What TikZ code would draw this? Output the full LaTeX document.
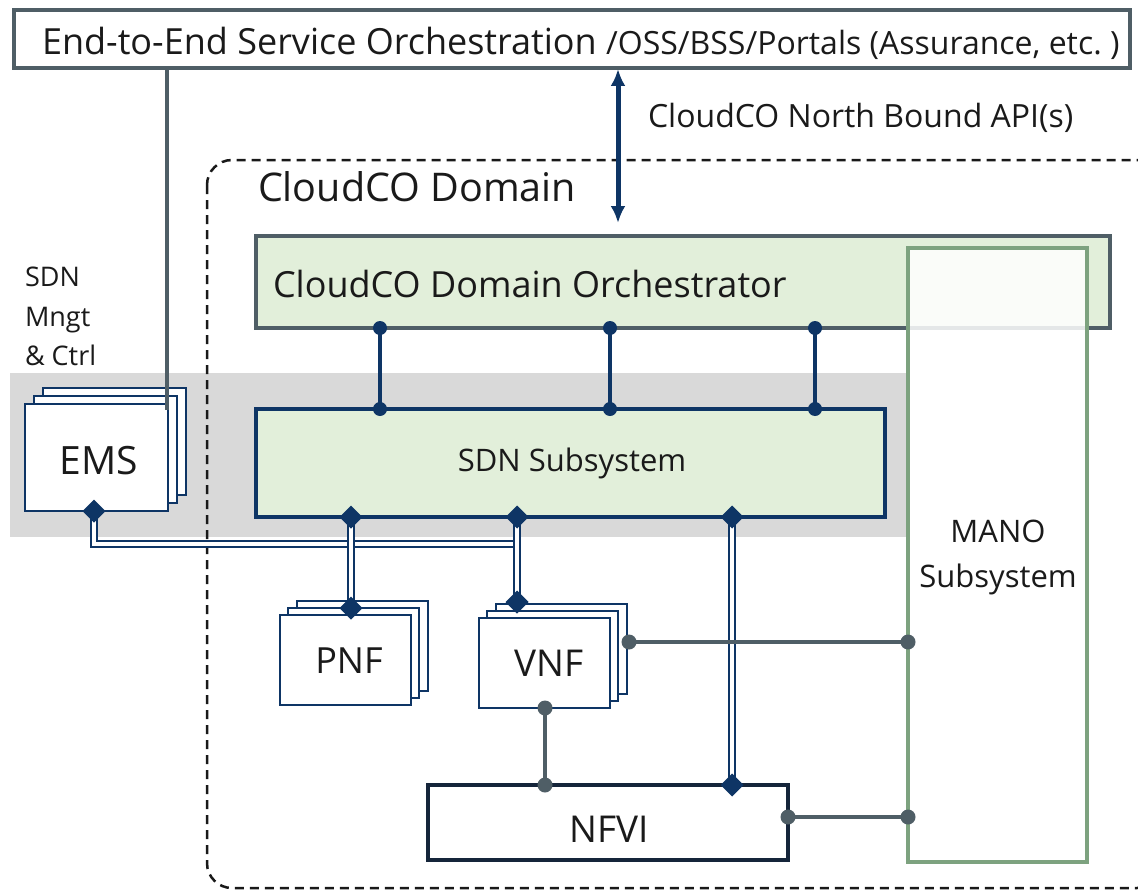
\documentclass[tikz,border=0pt]{standalone}
\usepackage{fontspec}
\setmainfont{Open Sans}
\usetikzlibrary{shapes.geometric,arrows.meta}
\definecolor{navy}{HTML}{0E3565}
\definecolor{cgray}{HTML}{4F5E66}
\definecolor{lgreen}{HTML}{E2EFDA}
\definecolor{mgreen}{HTML}{7DA27F}
\definecolor{bandgray}{HTML}{D9D9D9}
\definecolor{txt}{HTML}{1A1A1A}
\definecolor{nfvic}{HTML}{15253A}
\newcommand\fsz[1]{\fontsize{#1}{#1}\selectfont}
\tikzset{
  every node/.style={inner sep=0pt, outer sep=0pt, text=txt},
  nw/.style={rectangle, anchor=north west},
  topbox/.style={nw, draw=cgray, line width=3.2, fill=white},
  orchbox/.style={nw, draw=cgray, line width=3.2, fill=lgreen},
  manobox/.style={nw, draw=mgreen, line width=3.2, fill=white, fill opacity=0.85},
  sdnbox/.style={nw, draw=navy, line width=3.4, fill=lgreen},
  elbox/.style={nw, draw=navy, line width=2.6, fill=white},
  nfvibox/.style={nw, draw=nfvic, line width=3.4, fill=white},
  dbl/.style={draw=navy, line width=2.2, double=white, double distance=3.2},
  navyln/.style={draw=navy, line width=3.4},
  grayln/.style={draw=cgray, line width=3.6},
  dia/.style={diamond, fill=navy, minimum width=23, minimum height=23},
  ndot/.style={circle, fill=navy, minimum size=14},
  gdot/.style={circle, fill=cgray, minimum size=15},
}
\begin{document}
\begin{tikzpicture}[x=1pt,y=-1pt]
\useasboundingbox (0,0) rectangle (1138,891);
\clip (0,0) rectangle (1138,891);
% grey band
\node[nw, fill=bandgray, minimum width=896, minimum height=164] (band) at (10,373) {};
% CloudCO domain (dashed)
\draw[black!90, line width=2.5, dash pattern=on 9pt off 6pt, rounded corners=25] (207,160) rectangle (1162,888);
\node[anchor=base west, font=\fsz{39.5}] (domlbl) at (258,201) {CloudCO Domain};
% top box
\node[topbox, minimum width=1116, minimum height=58] (top) at (14,10) {};
\node[anchor=base west, font=\fsz{36}] (toptxt) at (42,55) {End-to-End Service Orchestration {\fsz{32}/OSS/BSS/Portals (Assurance, etc.~)}};
% orchestrator
\node[orchbox, minimum width=854, minimum height=92] (orch) at (256,236) {};
\node[anchor=base west, font=\fsz{36}] (orchtxt) at (273,297) {CloudCO Domain Orchestrator};
% north bound API
\coordinate (apiT) at (618,69);
\coordinate (apiB) at (618,223);
\draw[navy, line width=5, {Latex[length=17,width=15]}-{Latex[length=17,width=15]}] (apiT) -- (apiB);
\node[anchor=base west, font=\fsz{32}] (apitxt) at (648,127) {CloudCO North Bound API(s)};
% MANO
\node[manobox, minimum width=179, minimum height=614] (mano) at (908,248) {};
\node[align=center, font=\fsz{31}] (manotxt) at (998,557) {MANO\\[14pt]Subsystem};
% SDN subsystem
\node[sdnbox, minimum width=629, minimum height=108] (sdn) at (256,409) {};
\node[font=\fsz{31}] (sdntxt) at (572,463) {SDN Subsystem};
% SDN Mngt label
\node[anchor=base west, font=\fsz{27}] (mngt) at (25,286) {SDN};
\node[anchor=base west, font=\fsz{27}] (mngt2) at (25,326) {Mngt};
\node[anchor=base west, font=\fsz{27}] (mngt3) at (25,365) {\& Ctrl};
% EMS stack
\node[elbox, minimum width=143, minimum height=107] (ems3) at (43,388) {};
\node[elbox, minimum width=143, minimum height=107] (ems2) at (34,396) {};
\node[elbox, minimum width=143, minimum height=107] (ems) at (25,404) {};
\node[font=\fsz{39}] (emstxt) at (99,461) {EMS};
\coordinate (emsTop) at (167,410);
\draw[grayln] (top.south -| emsTop) -- (emsTop);
% PNF stack
\node[elbox, minimum width=131, minimum height=90] (pnf3) at (297,601) {};
\node[elbox, minimum width=131, minimum height=90] (pnf2) at (288,608) {};
\node[elbox, minimum width=131, minimum height=90] (pnf) at (280,615) {};
\node[font=\fsz{36}] (pnftxt) at (349,661) {PNF};
% VNF stack
\node[elbox, minimum width=131, minimum height=90] (vnf3) at (496,604) {};
\node[elbox, minimum width=131, minimum height=90] (vnf2) at (487,611) {};
\node[elbox, minimum width=131, minimum height=90] (vnf) at (479,618) {};
\node[font=\fsz{37}] (vnftxt) at (549,663) {VNF};
% NFVI
\node[nfvibox, minimum width=360, minimum height=75] (nfvi) at (428,785) {};
\node[font=\fsz{37}] (nfvitxt) at (609,829) {NFVI};
% orchestrator <-> SDN
\foreach \i/\xx in {a/380,b/610,c/815}{
  \coordinate (o\i) at (\xx,328);
  \coordinate (s\i) at (\xx,409);
  \draw[navyln] (o\i) -- (s\i);
  \node[ndot] at (o\i) {};
  \node[ndot] at (s\i) {};
}
% EMS / PNF / VNF / NFVI double links
\coordinate (emsD) at (94,511);
\coordinate (sdnP) at (351,517);
\coordinate (sdnV) at (517,517);
\coordinate (sdnN) at (732,517);
\coordinate (pnfD) at (351,608);
\coordinate (vnfD) at (517,602);
\coordinate (nfviD) at (732,785);
\draw[dbl] (emsD) |- (517,544);
\draw[dbl] (sdnP) -- (pnfD);
\draw[dbl] (sdnV) -- (vnfD);
\draw[dbl] (sdnN) -- (nfviD);
\foreach \p in {emsD,sdnP,sdnV,sdnN,pnfD,vnfD,nfviD} \node[dia] at (\p) {};
% MANO links (grey)
\coordinate (vnfR) at (629,642);
\coordinate (manoV) at (908,642);
\coordinate (vnfB) at (545,708);
\coordinate (nfviT) at (545,785);
\coordinate (nfviR) at (788,817);
\coordinate (manoN) at (908,817);
\draw[grayln] (vnfR) -- (manoV);
\draw[grayln] (vnfB) -- (nfviT);
\draw[grayln] (nfviR) -- (manoN);
\foreach \p in {vnfR,manoV,vnfB,nfviT,nfviR,manoN} \node[gdot] at (\p) {};
\end{tikzpicture}
\end{document}
